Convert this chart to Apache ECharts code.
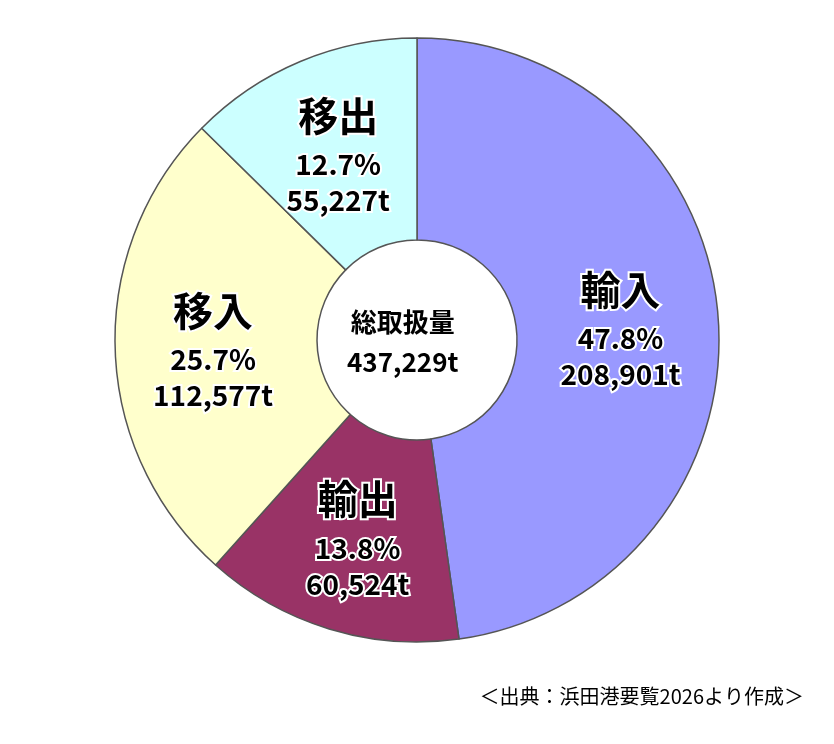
<!DOCTYPE html>
<html>
<head>
<meta charset="utf-8">
<script src="https://cdn.jsdelivr.net/npm/echarts@6/dist/echarts.min.js"></script>
<style>
  html, body { margin: 0; padding: 0; background: #fff; }
  #chart { width: 834px; height: 744px; }
</style>
</head>
<body>
<div id="chart"></div>
<script>
const categories = ['輸入', '輸出', '移入', '移出'];
const tonnes = [208901, 60524, 112577, 55227];
const percents = ['47.8%', '13.8%', '25.7%', '12.7%'];
const colors = ['#9999ff', '#993366', '#ffffcc', '#ccffff'];
const totalLabel = '437,229t';

const chart = echarts.init(document.getElementById('chart'));
const font = '"Noto Sans CJK JP", "Noto Sans", sans-serif';

chart.setOption({
  backgroundColor: '#fff',
  animation: false,
  series: [{
    type: 'pie',
    center: [417, 340],
    radius: [100, 302],
    startAngle: 90,
    clockwise: true,
    data: categories.map((c, i) => ({
      name: c, value: tonnes[i],
      itemStyle: { color: colors[i] }
    })),
    itemStyle: { borderColor: '#555', borderWidth: 1.5 },
    label: {
      show: true,
      position: 'inside',
      formatter: p => '{n|' + p.name + '}\n{v|' + percents[p.dataIndex] + '}\n{v|' + tonnes[p.dataIndex].toLocaleString('en-US') + 't}',
      rich: {
        n: { fontSize: 40, fontWeight: 'bold', fontFamily: font, color: '#000', textBorderColor: '#fff', textBorderWidth: 4, lineHeight: 62 },
        v: { fontSize: 28, fontWeight: 'bold', fontFamily: font, color: '#000', textBorderColor: '#fff', textBorderWidth: 4, lineHeight: 36 }
      }
    },
    labelLine: { show: false },
    emphasis: { disabled: true }
  }],
  graphic: [
    {
      type: 'text', left: 'center', top: 305, x: 0,
      style: { text: '総取扱量\n' + totalLabel, x: 0, fill: '#000', font: 'bold 26px ' + font, textAlign: 'center', lineHeight: 40 },
      left: 417 - 70, top: 302
    },
    {
      type: 'text', right: 30, top: 686,
      style: { text: '＜出典：浜田港要覧2026より作成＞', fill: '#000', font: '20px ' + font }
    }
  ]
});
</script>
</body>
</html>
